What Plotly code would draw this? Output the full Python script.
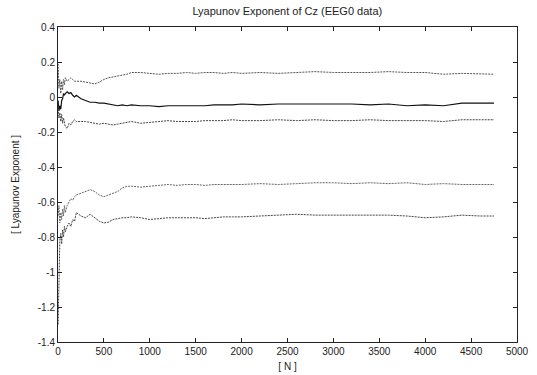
import plotly.graph_objects as go

N = [1, 10, 20, 30, 40, 50, 60, 70, 80, 100, 120, 140, 160, 180, 200, 250, 300, 350, 400, 450, 500,
     550, 600, 650, 700, 750, 800, 900, 1000, 1100, 1200, 1300, 1400, 1500, 1600, 1700, 1800, 1900,
     2000, 2200, 2400, 2600, 2800, 3000, 3200, 3400, 3600, 3800, 4000, 4200, 4400, 4600, 4750]

upper1 = [0.19, 0.05, 0.10, 0.02, 0.09, 0.04, 0.10, 0.07, 0.11, 0.09, 0.10, 0.11, 0.10, 0.09, 0.09, 0.09,
          0.085, 0.08, 0.075, 0.085, 0.10, 0.11, 0.115, 0.12, 0.125, 0.13, 0.14, 0.14, 0.135, 0.13, 0.135,
          0.135, 0.14, 0.135, 0.14, 0.14, 0.135, 0.14, 0.135, 0.14, 0.135, 0.14, 0.145, 0.14, 0.14, 0.14,
          0.145, 0.14, 0.14, 0.13, 0.135, 0.13, 0.13]
mid1 = [-0.02, -0.08, -0.05, -0.07, -0.02, -0.01, 0.02, 0.01, 0.02, 0.03, 0.02, 0.025, 0.01, 0.0, 0.01,
        -0.01, -0.02, -0.03, -0.03, -0.035, -0.035, -0.04, -0.045, -0.05, -0.045, -0.05, -0.045, -0.05,
        -0.05, -0.055, -0.05, -0.05, -0.05, -0.05, -0.05, -0.045, -0.045, -0.045, -0.04, -0.045, -0.04,
        -0.04, -0.04, -0.04, -0.04, -0.045, -0.04, -0.05, -0.045, -0.05, -0.035, -0.035, -0.035]
lower1 = [-0.05, -0.12, -0.09, -0.14, -0.10, -0.15, -0.12, -0.16, -0.17, -0.18, -0.15, -0.16, -0.14,
          -0.13, -0.14, -0.14, -0.14, -0.145, -0.15, -0.155, -0.15, -0.155, -0.16, -0.155, -0.15, -0.145,
          -0.14, -0.15, -0.145, -0.14, -0.135, -0.14, -0.14, -0.14, -0.135, -0.135, -0.135, -0.13, -0.135,
          -0.135, -0.13, -0.135, -0.13, -0.135, -0.135, -0.13, -0.135, -0.135, -0.135, -0.14, -0.13,
          -0.13, -0.13]
upper2 = [-0.68, -0.62, -0.72, -0.66, -0.70, -0.64, -0.68, -0.62, -0.66, -0.62, -0.60, -0.58, -0.59,
          -0.57, -0.56, -0.55, -0.54, -0.53, -0.54, -0.56, -0.57, -0.56, -0.55, -0.54, -0.52, -0.51,
          -0.51, -0.515, -0.51, -0.505, -0.50, -0.505, -0.50, -0.50, -0.505, -0.50, -0.50, -0.50, -0.50,
          -0.495, -0.50, -0.495, -0.49, -0.49, -0.495, -0.49, -0.495, -0.49, -0.50, -0.495, -0.50, -0.50,
          -0.50]
lower2 = [-1.30, -0.95, -0.82, -0.78, -0.84, -0.76, -0.80, -0.74, -0.77, -0.74, -0.72, -0.74, -0.70,
          -0.71, -0.66, -0.68, -0.69, -0.67, -0.69, -0.71, -0.72, -0.715, -0.70, -0.695, -0.69, -0.69,
          -0.685, -0.69, -0.70, -0.695, -0.69, -0.69, -0.69, -0.69, -0.695, -0.69, -0.685, -0.685, -0.685,
          -0.68, -0.675, -0.67, -0.675, -0.675, -0.675, -0.675, -0.675, -0.68, -0.69, -0.685, -0.675,
          -0.68, -0.68]

xticks = [0, 500, 1000, 1500, 2000, 2500, 3000, 3500, 4000, 4500, 5000]
yticks = [0.4, 0.2, 0, -0.2, -0.4, -0.6, -0.8, -1, -1.2, -1.4]
ytick_labels = ["0.4", "0.2", "0", "-0.2", "-0.4", "-0.6", "-0.8", "-1", "-1.2", "-1.4"]

fig = go.Figure()
series = [
    (upper1, "#555555", 1, "2px,1px"),
    (mid1, "#111111", 1.2, "solid"),
    (lower1, "#444444", 1, "2px,1px"),
    (upper2, "#666666", 1, "2px,1px"),
    (lower2, "#444444", 1, "2px,1px"),
]
for ys, col, w, dash in series:
    fig.add_trace(go.Scatter(x=N, y=ys, mode="lines",
                             line=dict(color=col, width=w, dash=dash), showlegend=False))

font = "Liberation Sans, Arial"
axis_common = dict(showgrid=False, zeroline=False, showline=True, linecolor="#222222", linewidth=1,
                   mirror="ticks", ticks="inside", ticklen=4, tickcolor="#222222", automargin=False,
                   tickfont=dict(family=font, size=10, color="#222222"))

fig.update_xaxes(range=[0, 5000], tickvals=xticks, ticktext=[str(v) for v in xticks],
                 title=dict(text="[ N ]", font=dict(family=font, size=10, color="#222222"), standoff=6),
                 **axis_common)
fig.update_yaxes(range=[-1.4, 0.4], tickvals=yticks, ticktext=ytick_labels,
                 title=dict(text="[ Lyapunov Exponent ]", font=dict(family=font, size=10, color="#222222"),
                            standoff=16),
                 **axis_common)

fig.update_layout(
    width=537, height=375,
    margin=dict(l=58, r=20, t=27, b=33),
    paper_bgcolor="white", plot_bgcolor="white",
    title=dict(text="Lyapunov Exponent of Cz (EEG0 data)", x=0.535, xanchor="center", y=0.98, yanchor="top",
               font=dict(family=font, size=11, color="#222222")),
)

fig.write_html("out.html")
